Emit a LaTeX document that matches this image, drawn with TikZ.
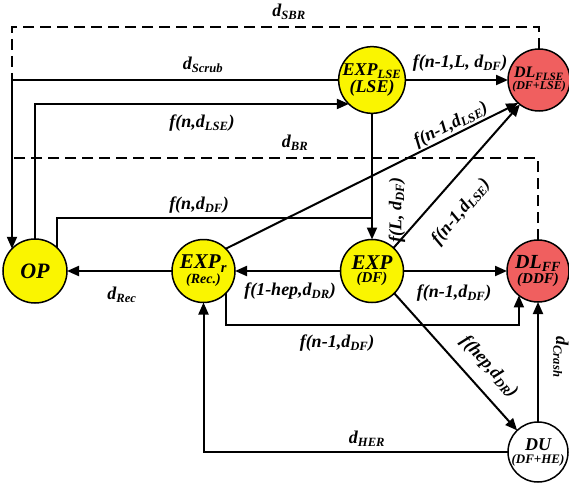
\documentclass[tikz,border=0pt]{standalone}
\usepackage{fontspec}
\setmainfont{Liberation Serif}
\usetikzlibrary{arrows.meta}
\definecolor{nodeyellow}{RGB}{250,245,0}
\definecolor{nodered}{RGB}{240,95,95}
\newcommand\myfs[1]{\fontsize{#1}{#1}\selectfont}
\begin{document}
\begin{tikzpicture}[x=1pt,y=-1pt,
  lab/.style={font=\bfseries\itshape\myfs{18}, inner sep=0pt},
  state/.style={circle, draw, line width=1.5pt, minimum size=63pt, inner sep=0pt, outer sep=0pt, align=center, font=\bfseries\itshape},
  conn/.style={line width=2pt, -{Triangle[length=12pt,width=10pt]}},
  plain/.style={line width=2pt},
  dashline/.style={line width=2pt, dash pattern=on 11pt off 6pt}]
\useasboundingbox (0,0) rectangle (569,489);
% states
\node[state, fill=nodeyellow, minimum size=64pt] (OP) at (35,271) {\myfs{22}OP};
\node[state, fill=nodeyellow] (EXPr) at (203.5,271) {\myfs{21}EXP\textsubscript{r}\\[1pt]\myfs{14}(Rec.)};
\node[state, fill=nodeyellow] (EXP) at (372,271) {\myfs{21}EXP\\[1pt]\myfs{15}(DF)};
\node[state, fill=nodered, minimum size=62pt] (DLFF) at (538,271) {\myfs{20}DL\textsubscript{FF}\\[1pt]\myfs{15}(DDF)};
\node[state, fill=nodeyellow, minimum size=64pt] (EXPLSE) at (372,80) {\myfs{18}EXP\textsubscript{LSE}\\[0pt]\myfs{18}(LSE)};
\node[state, fill=nodered, minimum size=62pt] (DLFLSE) at (539,80) {\myfs{16}DL\textsubscript{FLSE}\\[0pt]\myfs{12}(DF+LSE)};
\node[state, fill=white, minimum size=60pt] (DU) at (538,452) {\myfs{18}DU\\[1pt]\myfs{13}(DF+HE)};
% helper coordinates
\coordinate (c27) at (0,27);
\coordinate (c158) at (0,158);
\coordinate (c218) at (0,218);
\coordinate (c325) at (0,325);
\coordinate (sbrc) at (OP.136 |- c27);
\coordinate (scrubc) at (OP.136 |- EXPLSE.west);
\coordinate (brc) at (OP.136 |- c158);
\coordinate (jn) at (EXPLSE.south |- c218);
\coordinate (lowc) at (EXPr.-44 |- c325);
% dashed feedback lines
\draw[dashline] (DLFLSE.north) |- (sbrc) -- (scrubc);
\draw[dashline] (DLFF.north) |- (brc);
% connectors
\draw[conn] (EXPLSE.west) -| (OP.136);
\draw[conn] (OP.north) |- (EXPLSE.226);
\draw[conn] (EXPLSE.east) -- (DLFLSE.west);
\draw[plain] (OP.47) |- (jn);
\draw[conn] (EXPLSE.south) -- (EXP.north);
\draw[conn] (EXPr.45) -- (DLFLSE.228);
\draw[conn] (EXP.47) -- (DLFLSE.232);
\draw[conn] (EXPr.west) -- (OP.east);
\draw[conn] (EXP.west) -- (EXPr.east);
\draw[conn] (EXP.east) -- (DLFF.west);
\draw[conn] (EXPr.-44) -- (lowc) -| (DLFF.232);
\draw[conn] (EXP.-45) -- (DU.134);
\draw[conn] (DU.north) -- (DLFF.south);
\draw[conn] (DU.west) -| (EXPr.south);
% labels
\node[lab] (lSBR) at (289,12) {d\textsubscript{SBR}};
\node[lab] (lScrub) at (203,65) {d\textsubscript{Scrub}};
\node[lab] (lnLSE) at (202,123) {f(n,d\textsubscript{LSE})};
\node[lab] (lBR) at (295,143) {d\textsubscript{BR}};
\node[lab] (lnLDF) at (460,63) {f(n-1,L, d\textsubscript{DF})};
\node[lab] (lnDF) at (199,205) {f(n,d\textsubscript{DF})};
\node[lab, rotate=90] (lLDF) at (397,210) {f(L, d\textsubscript{DF})};
\node[lab, rotate=26.7] (lLSEa) at (451,125) {f(n-1,d\textsubscript{LSE})};
\node[lab, rotate=49.9] (lLSEb) at (461,212) {f(n-1,d\textsubscript{LSE})};
\node[lab] (lRec) at (122,295) {d\textsubscript{Rec}};
\node[lab] (lhep) at (290,291) {f(1-hep,d\textsubscript{DR})};
\node[lab] (lDFa) at (454,293) {f(n-1,d\textsubscript{DF})};
\node[lab] (lDFb) at (337,343) {f(n-1,d\textsubscript{DF})};
\node[lab, rotate=-47.9] (lhepb) at (489,367) {f(hep,d\textsubscript{DR})};
\node[lab, rotate=-90] (lCrash) at (561,357) {d\textsubscript{Crash}};
\node[lab] (lHER) at (367,439) {d\textsubscript{HER}};
\end{tikzpicture}
\end{document}
